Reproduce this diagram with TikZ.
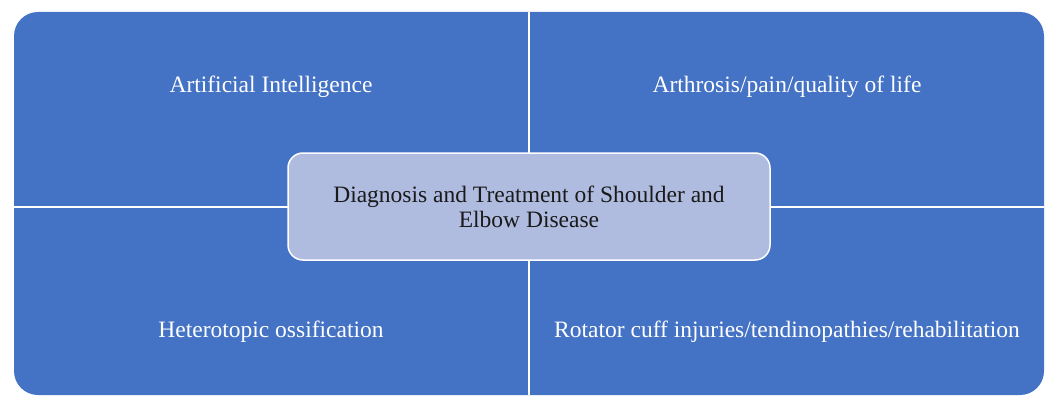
\documentclass[tikz,border=0pt]{standalone}
\usepackage{fontspec}
\setmainfont{Liberation Serif}
\definecolor{qblue}{HTML}{4472C4}
\definecolor{cblue}{HTML}{AFBCE0}
\definecolor{ctext}{HTML}{1A1A1A}
\begin{document}
\begin{tikzpicture}[x=1pt,y=-1pt,
  quad/.style={text=white,inner sep=0pt,font=\fontsize{23.5}{25}\selectfont},
  hub/.style={fill=cblue,draw=white,line width=1.5pt,rounded corners=15pt,
    minimum width=482pt,minimum height=107pt,align=center,text=ctext,
    font=\fontsize{23.5}{25}\selectfont},
  divider/.style={draw=white,line width=2pt}]
\useasboundingbox (0,0) rectangle (1046,396);
\fill[qblue,rounded corners=24pt] (14,12) rectangle (1044,395);
\coordinate (vt) at (529,12);
\coordinate (vb) at (529,395);
\coordinate (hl) at (14,207);
\coordinate (hr) at (1044,207);
\draw[divider] (vt) -- (vb);
\draw[divider] (hl) -- (hr);
\node[quad] (ai) at (271,87) {Artificial Intelligence};
\node[quad] (ar) at (787,87) {Arthrosis/pain/quality of life};
\node[quad] (ho) at (271,332) {Heterotopic ossification};
\node[quad] (rc) at (787,332) {Rotator cuff injuries/tendinopathies/rehabilitation};
\node[hub] (c) at (529,206.5) {Diagnosis and Treatment of Shoulder and\\Elbow Disease};
\end{tikzpicture}
\end{document}
